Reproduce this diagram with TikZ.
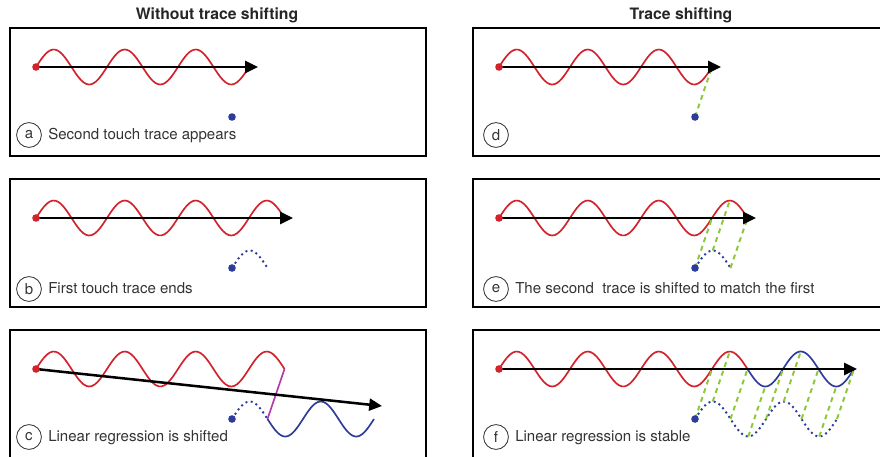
\documentclass[tikz,border=0pt]{standalone}
\usepackage{fontspec}
\setmainfont{TeX Gyre Heros}
\usetikzlibrary{arrows.meta}
\definecolor{tracered}{RGB}{210,35,45}
\definecolor{traceblue}{RGB}{45,60,155}
\definecolor{shiftgreen}{RGB}{140,200,60}
\definecolor{jumppurple}{RGB}{180,60,170}
\tikzset{
  panel/.style={draw=black,line width=1.4pt},
  header/.style={font=\fontsize{11.2}{13.4}\selectfont\bfseries,text=black!85},
  redtrace/.style={draw=tracered,line width=1.2pt},
  bluetrace/.style={draw=traceblue,line width=1.2pt},
  bluedots/.style={draw=traceblue,line width=1.4pt,dash pattern=on 1.4pt off 2.4pt},
  shiftline/.style={draw=shiftgreen,line width=1.4pt,dash pattern=on 3.5pt off 3pt},
  jumpline/.style={draw=jumppurple,line width=1.2pt},
  regline/.style={draw=black,line width=1.8pt,-{Triangle[length=0.32cm,width=0.3cm]}},
  touchdot/.style={circle,inner sep=0pt,minimum size=0.19cm},
  tag/.style={circle,draw=black!80,text=black!80,line width=0.6pt,minimum size=0.62cm,inner sep=0pt},
  caption/.style={anchor=base west,inner sep=0pt,text=black!80}
}
\begin{document}
\begin{tikzpicture}[x=0.025cm,y=-0.025cm,font=\fontsize{10.7}{12.8}\selectfont]
\useasboundingbox (0,0) rectangle (880,456);
\clip (0,0) rectangle (880,456);
\node[header] (lefthead) at (217,15) {Without trace shifting};
\node[header] (righthead) at (681,15) {Trace shifting};
\foreach \lbl/\ox/\oy/\nper/\ex/\ey/\tx/\ty/\txt in {
  a/36/67/3/222/0/-7/68/Second touch trace appears,
  b/36/218/3.5/257/0/-7/71/First touch trace ends,
  c/36/369/3.5/346/37/-7/68/Linear regression is shifted,
  d/499/67/3/222/0/-3/68/,
  e/499/218/3.5/257/0/-3/71/The second\ \ trace is shifted to match the first,
  f/499/369/3.5/358/0/-3/68/Linear regression is stable}{
\begin{scope}[shift={(\ox,\oy)}]
\draw[panel] (-26,-39) rectangle (390,89);
\draw[redtrace] plot[domain=0:\nper,samples=90] ({71*\x},{-17.5*sin(360*\x)});
\coordinate (r\lbl) at (0,0);
\coordinate (e\lbl) at (\ex,\ey);
\coordinate (b\lbl) at (196,50);
\node[tag] (t\lbl) at (\tx,\ty) {\lbl};
\node[caption] (c\lbl) at (\tx+19,\ty+4.5) {\txt};
\end{scope}}
\foreach \lbl/\dend in {b/0.5,c/0.5,e/0.5,f/2}{
\begin{scope}[shift={(b\lbl)}]
\draw[bluedots] plot[domain=0:\dend,samples=60] ({71*\x},{-17.5*sin(360*\x)});
\end{scope}}
\begin{scope}[shift={(bc)}]
\draw[bluetrace] plot[domain=0.5:2,samples=70] ({71*\x},{-17.5*sin(360*\x)});
\coordinate (jumpend) at (35.5,0);
\end{scope}
\begin{scope}[shift={(rc)}]
\coordinate (jumpstart) at (248.5,0);
\end{scope}
\draw[jumpline] (jumpstart) -- (jumpend);
\begin{scope}[shift={(rf)}]
\draw[bluetrace] plot[domain=3.5:5,samples=70] ({71*\x},{-17.5*sin(360*\x)});
\end{scope}
\foreach \lbl/\slist in {d/{0},e/{0,0.25,0.5},f/{0,0.25,...,2}}{
\begin{scope}[shift={(r\lbl)}]
\foreach \s [count=\k] in \slist{
\coordinate (gb\lbl\k) at ({196+71*\s},{50-17.5*sin(360*\s)});
\coordinate (gr\lbl\k) at ({213+71*\s},{-17.5*sin(360*\s)});
\draw[shiftline] (gb\lbl\k) -- (gr\lbl\k);
}
\end{scope}}
\foreach \lbl in {a,...,f}{
\draw[regline] (r\lbl) -- (e\lbl);
\node[touchdot,fill=tracered] (rd\lbl) at (r\lbl) {};
\node[touchdot,fill=traceblue] (bd\lbl) at (b\lbl) {};
}
\end{tikzpicture}
\end{document}
